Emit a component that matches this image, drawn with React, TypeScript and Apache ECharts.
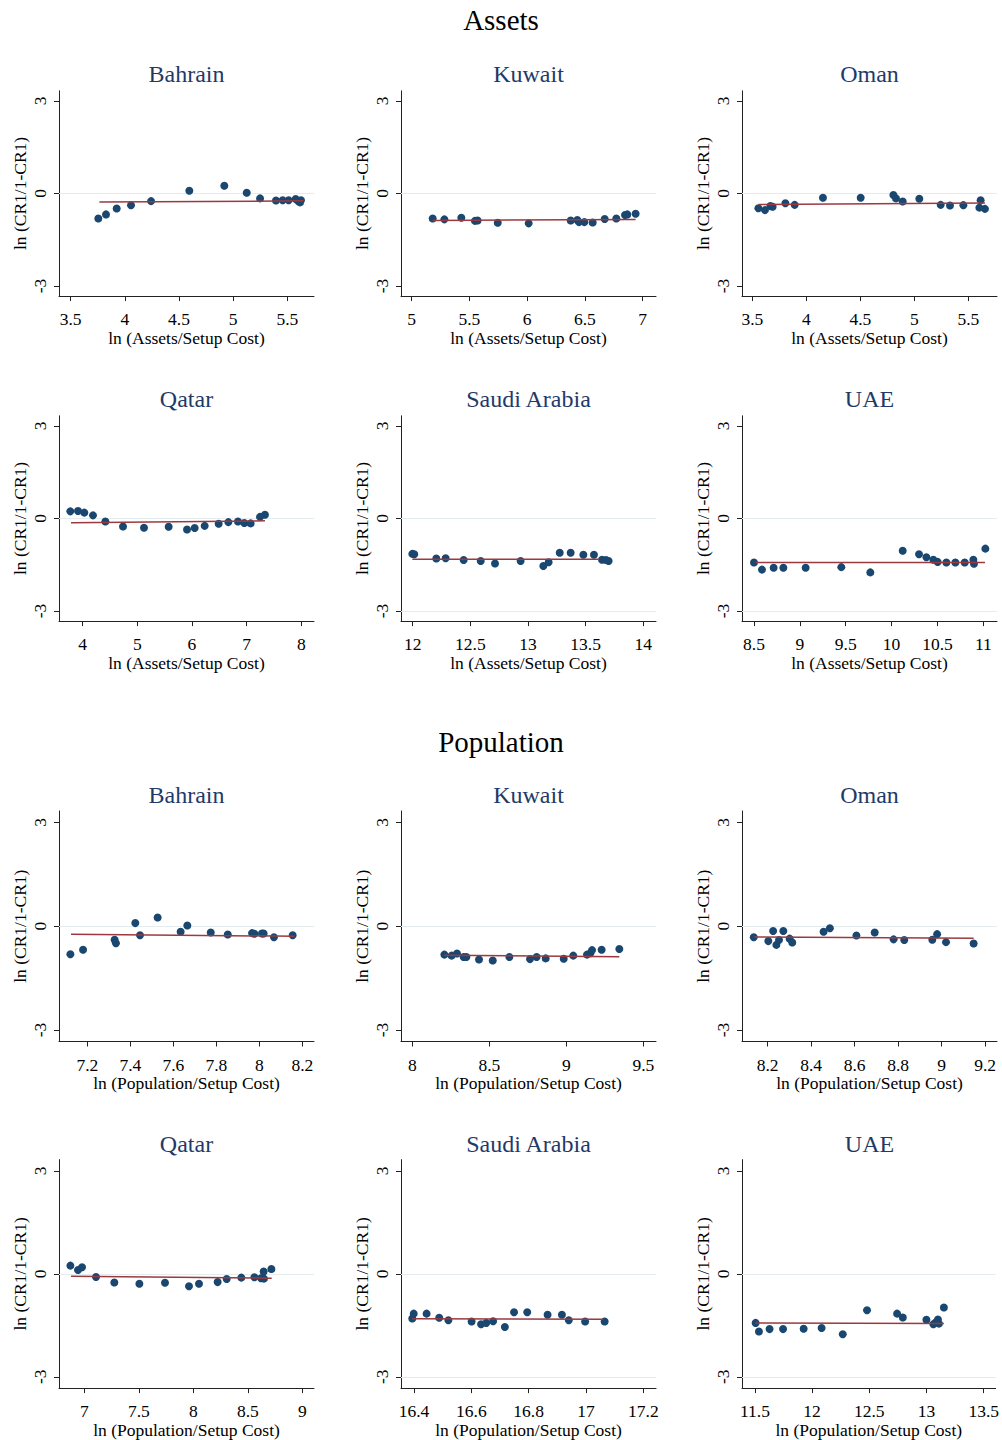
import React, { useEffect, useRef } from "react";
import * as echarts from "echarts";

// ---------- DATA ----------
const countries = ["Bahrain", "Kuwait", "Oman", "Qatar", "Saudi Arabia", "UAE"];
const sectionTitles = ["Assets", "Population"];
const xAxisTitles = ["ln (Assets/Setup Cost)", "ln (Population/Setup Cost)"];
const yAxisTitle = "ln (CR1/1-CR1)";
const yTicks = [-3, 0, 3];

const assetsBahrain = [[3.755,-0.81],[3.826,-0.68],[3.925,-0.49],[4.057,-0.38],[4.242,-0.25],[4.595,0.09],[4.918,0.25],[5.125,0.02],[5.248,-0.16],[5.395,-0.23],[5.457,-0.22],[5.512,-0.22],[5.577,-0.18],[5.6,-0.25],[5.626,-0.22],[5.617,-0.29]];
const assetsKuwait = [[5.182,-0.81],[5.283,-0.84],[5.43,-0.79],[5.548,-0.89],[5.571,-0.88],[5.745,-0.95],[6.013,-0.97],[6.377,-0.88],[6.434,-0.86],[6.449,-0.93],[6.495,-0.93],[6.567,-0.94],[6.671,-0.83],[6.772,-0.81],[6.847,-0.7],[6.867,-0.68],[6.939,-0.66]];
const assetsOman = [[3.556,-0.48],[3.617,-0.54],[3.667,-0.41],[3.688,-0.43],[3.806,-0.32],[3.892,-0.37],[4.154,-0.14],[4.503,-0.14],[4.806,-0.05],[4.83,-0.16],[4.892,-0.26],[5.046,-0.17],[5.244,-0.37],[5.33,-0.39],[5.454,-0.38],[5.614,-0.22],[5.602,-0.46],[5.654,-0.5]];
const assetsQatar = [[3.774,0.23],[3.915,0.24],[4.03,0.19],[4.189,0.1],[4.415,-0.1],[4.738,-0.26],[5.122,-0.3],[5.573,-0.27],[5.909,-0.36],[6.049,-0.31],[6.232,-0.24],[6.488,-0.17],[6.665,-0.12],[6.841,-0.1],[6.957,-0.15],[7.073,-0.16],[7.244,0.05],[7.335,0.12]];
const assetsSaudi = [[11.997,-1.15],[12.014,-1.16],[12.205,-1.3],[12.286,-1.29],[12.442,-1.35],[12.59,-1.38],[12.714,-1.46],[12.936,-1.38],[13.133,-1.54],[13.179,-1.42],[13.275,-1.11],[13.37,-1.11],[13.48,-1.18],[13.572,-1.18],[13.642,-1.34],[13.676,-1.35],[13.699,-1.38]];
const assetsUAE = [[8.5,-1.43],[8.587,-1.66],[8.714,-1.6],[8.82,-1.6],[9.063,-1.6],[9.452,-1.58],[9.768,-1.75],[10.121,-1.05],[10.299,-1.16],[10.379,-1.26],[10.455,-1.34],[10.502,-1.41],[10.597,-1.43],[10.695,-1.43],[10.797,-1.43],[10.891,-1.34],[10.898,-1.47],[11.022,-0.98]];

const popBahrain = [[7.121,-0.81],[7.18,-0.68],[7.327,-0.39],[7.333,-0.49],[7.423,0.09],[7.445,-0.26],[7.527,0.25],[7.634,-0.16],[7.665,0.02],[7.774,-0.18],[7.853,-0.24],[7.966,-0.2],[7.977,-0.22],[8.012,-0.21],[8.02,-0.21],[8.068,-0.32],[8.155,-0.26]];
const popKuwait = [[8.208,-0.82],[8.255,-0.85],[8.29,-0.79],[8.333,-0.89],[8.351,-0.89],[8.433,-0.96],[8.522,-0.99],[8.63,-0.89],[8.764,-0.95],[8.807,-0.89],[8.866,-0.93],[8.983,-0.94],[9.045,-0.85],[9.134,-0.82],[9.156,-0.78],[9.167,-0.69],[9.229,-0.68],[9.344,-0.66]];
const popOman = [[8.136,-0.32],[8.203,-0.43],[8.225,-0.14],[8.24,-0.54],[8.252,-0.4],[8.272,-0.14],[8.301,-0.36],[8.313,-0.47],[8.457,-0.16],[8.486,-0.06],[8.608,-0.27],[8.692,-0.18],[8.779,-0.38],[8.828,-0.4],[8.957,-0.39],[8.979,-0.23],[9.02,-0.46],[9.147,-0.5]];
const popQatar = [[6.872,0.24],[6.942,0.11],[6.979,0.19],[7.107,-0.09],[7.275,-0.25],[7.505,-0.29],[7.74,-0.26],[7.96,-0.36],[8.052,-0.29],[8.223,-0.24],[8.306,-0.15],[8.44,-0.11],[8.56,-0.1],[8.621,-0.13],[8.648,-0.14],[8.645,0.07],[8.716,0.14]];
const popSaudi = [[16.394,-1.3],[16.399,-1.16],[16.444,-1.16],[16.488,-1.28],[16.52,-1.35],[16.601,-1.39],[16.634,-1.47],[16.652,-1.43],[16.676,-1.38],[16.717,-1.55],[16.749,-1.12],[16.795,-1.12],[16.866,-1.19],[16.916,-1.19],[16.94,-1.35],[16.997,-1.39],[17.065,-1.39]];
const popUAE = [[11.506,-1.43],[11.535,-1.68],[11.628,-1.61],[11.746,-1.61],[11.926,-1.6],[12.083,-1.58],[12.268,-1.76],[12.48,-1.06],[12.743,-1.16],[12.793,-1.27],[12.999,-1.34],[13.06,-1.47],[13.08,-1.42],[13.1,-1.33],[13.109,-1.45],[13.152,-0.98]];

// fitted line end points
const assetsFits = [
  [[3.765,-0.28],[5.648,-0.24]],
  [[5.182,-0.876],[6.939,-0.843]],
  [[3.556,-0.357],[5.654,-0.31]],
  [[3.787,-0.14],[7.335,-0.076]],
  [[11.997,-1.32],[13.616,-1.32]],
  [[8.518,-1.43],[11.018,-1.43]],
];
const popFits = [
  [[7.124,-0.23],[8.163,-0.29]],
  [[8.208,-0.84],[9.344,-0.88]],
  [[8.139,-0.31],[9.147,-0.35]],
  [[6.878,-0.07],[8.719,-0.125]],
  [[16.394,-1.31],[17.06,-1.32]],
  [[11.506,-1.43],[13.152,-1.445]],
];

const assetsXTicks = [[3.5,4,4.5,5,5.5],[5,5.5,6,6.5,7],[3.5,4,4.5,5,5.5],[4,5,6,7,8],[12,12.5,13,13.5,14],[8.5,9,9.5,10,10.5,11]];
const popXTicks = [[7.2,7.4,7.6,7.8,8,8.2],[8,8.5,9,9.5],[8.2,8.4,8.6,8.8,9,9.2],[7,7.5,8,8.5,9],[16.4,16.6,16.8,17,17.2],[11.5,12,12.5,13,13.5]];
const assetsXRange = [[3.3923,5.746],[4.9076,7.1154],[3.4043,5.7654],[3.567,8.232],[11.8988,14.11],[8.3692,11.149]];
const popXRange = [[7.0682,8.2542],[7.9264,9.5822],[8.082,9.2544],[6.7676,9.107],[16.3547,17.2442],[11.387,13.604]];
// which horizontal reference lines are drawn in each panel
const gridLinesPerPanel = [[0],[0],[0],[0],[0,-3],[0,-3]];

// ---------- LAYOUT ----------
const FONT = "'Liberation Serif', 'Times New Roman', serif";
const colLeft = [59, 401, 742];
const plotWidth = 255;
const rowTop = [90.8, 415.8, 810.9, 1159.6];
const rowHeight = [205.3, 205.3, 230.6, 230.9];
const titleY = [74, 399, 795, 1144];
const sectionY = [20, 742];
const Y_LIM = 3.33;
const MARKER = "#1a476f";
const FITCOLOR = "#9a3a40";
const TITLECOLOR = "#1f3a68";

export default function App() {
  const ref = useRef<HTMLDivElement>(null);
  useEffect(() => {
    document.body.style.margin = "0";
    if (!ref.current) return;
    const chart = echarts.init(ref.current, undefined, { renderer: "svg" });

    const points = [assetsBahrain, assetsKuwait, assetsOman, assetsQatar, assetsSaudi, assetsUAE,
      popBahrain, popKuwait, popOman, popQatar, popSaudi, popUAE];
    const fits = [...assetsFits, ...popFits];
    const xticks = [...assetsXTicks, ...popXTicks];
    const xranges = [...assetsXRange, ...popXRange];

    const grids: any[] = [];
    const xAxes: any[] = [];
    const yAxes: any[] = [];
    const series: any[] = [];
    const graphics: any[] = [];

    sectionTitles.forEach((t, i) => {
      graphics.push({
        type: "text", x: 501, y: sectionY[i],
        style: { text: t, fontSize: 29, fontFamily: FONT, fill: "#000", align: "center", verticalAlign: "middle" },
      });
    });

    for (let p = 0; p < 12; p++) {
      const section = Math.floor(p / 6);
      const local = p % 6;
      const row = section * 2 + Math.floor(local / 3);
      const col = local % 3;
      grids.push({ left: colLeft[col], top: rowTop[row], width: plotWidth, height: rowHeight[row], containLabel: false });
      graphics.push({
        type: "text", x: colLeft[col] + plotWidth / 2, y: titleY[row],
        style: { text: countries[local], fontSize: 24, fontFamily: FONT, fill: TITLECOLOR, align: "center", verticalAlign: "middle" },
      });
      xAxes.push({
        type: "value", gridIndex: p, min: xranges[p][0], max: xranges[p][1],
        name: xAxisTitles[section], nameLocation: "middle", nameGap: 28,
        nameTextStyle: { fontFamily: FONT, fontSize: 17.5, color: "#000" },
        axisLine: { show: true, onZero: false, lineStyle: { color: "#222", width: 1 } },
        axisTick: { show: true, length: 5, customValues: xticks[p], lineStyle: { color: "#222" } },
        axisLabel: { show: true, customValues: xticks[p], margin: 14, fontFamily: FONT, fontSize: 17.5, color: "#000" },
        splitLine: { show: false },
      });
      yAxes.push({
        type: "value", gridIndex: p, min: -Y_LIM, max: Y_LIM,
        name: yAxisTitle, nameLocation: "middle", nameGap: 30, nameRotate: 90,
        nameTextStyle: { fontFamily: FONT, fontSize: 17.5, color: "#000" },
        axisLine: { show: true, onZero: false, lineStyle: { color: "#222", width: 1 } },
        axisTick: { show: true, length: 5, customValues: yTicks, lineStyle: { color: "#222" } },
        axisLabel: { show: true, customValues: yTicks, rotate: 90, margin: 10, fontFamily: FONT, fontSize: 17.5, color: "#000" },
        splitLine: { show: false },
      });
      series.push({
        type: "scatter", xAxisIndex: p, yAxisIndex: p, data: points[p],
        symbol: "circle", symbolSize: 8, itemStyle: { color: MARKER, opacity: 1 }, z: 2,
        markLine: {
          silent: true, symbol: "none", z: 1, animation: false,
          label: { show: false },
          lineStyle: { color: "#e4ecef", width: 1.2, type: "solid" },
          data: gridLinesPerPanel[local].map((v) => ({ yAxis: v })),
        },
      });
      series.push({
        type: "line", xAxisIndex: p, yAxisIndex: p, data: fits[p],
        showSymbol: false, symbol: "none", lineStyle: { color: FITCOLOR, width: 1.5 }, z: 3,
      });
    }

    chart.setOption({
      animation: false,
      backgroundColor: "#ffffff",
      grid: grids,
      xAxis: xAxes,
      yAxis: yAxes,
      series,
      graphic: graphics,
    });
    return () => chart.dispose();
  }, []);
  return <div ref={ref} style={{ width: 1002, height: 1440 }} />;
}
